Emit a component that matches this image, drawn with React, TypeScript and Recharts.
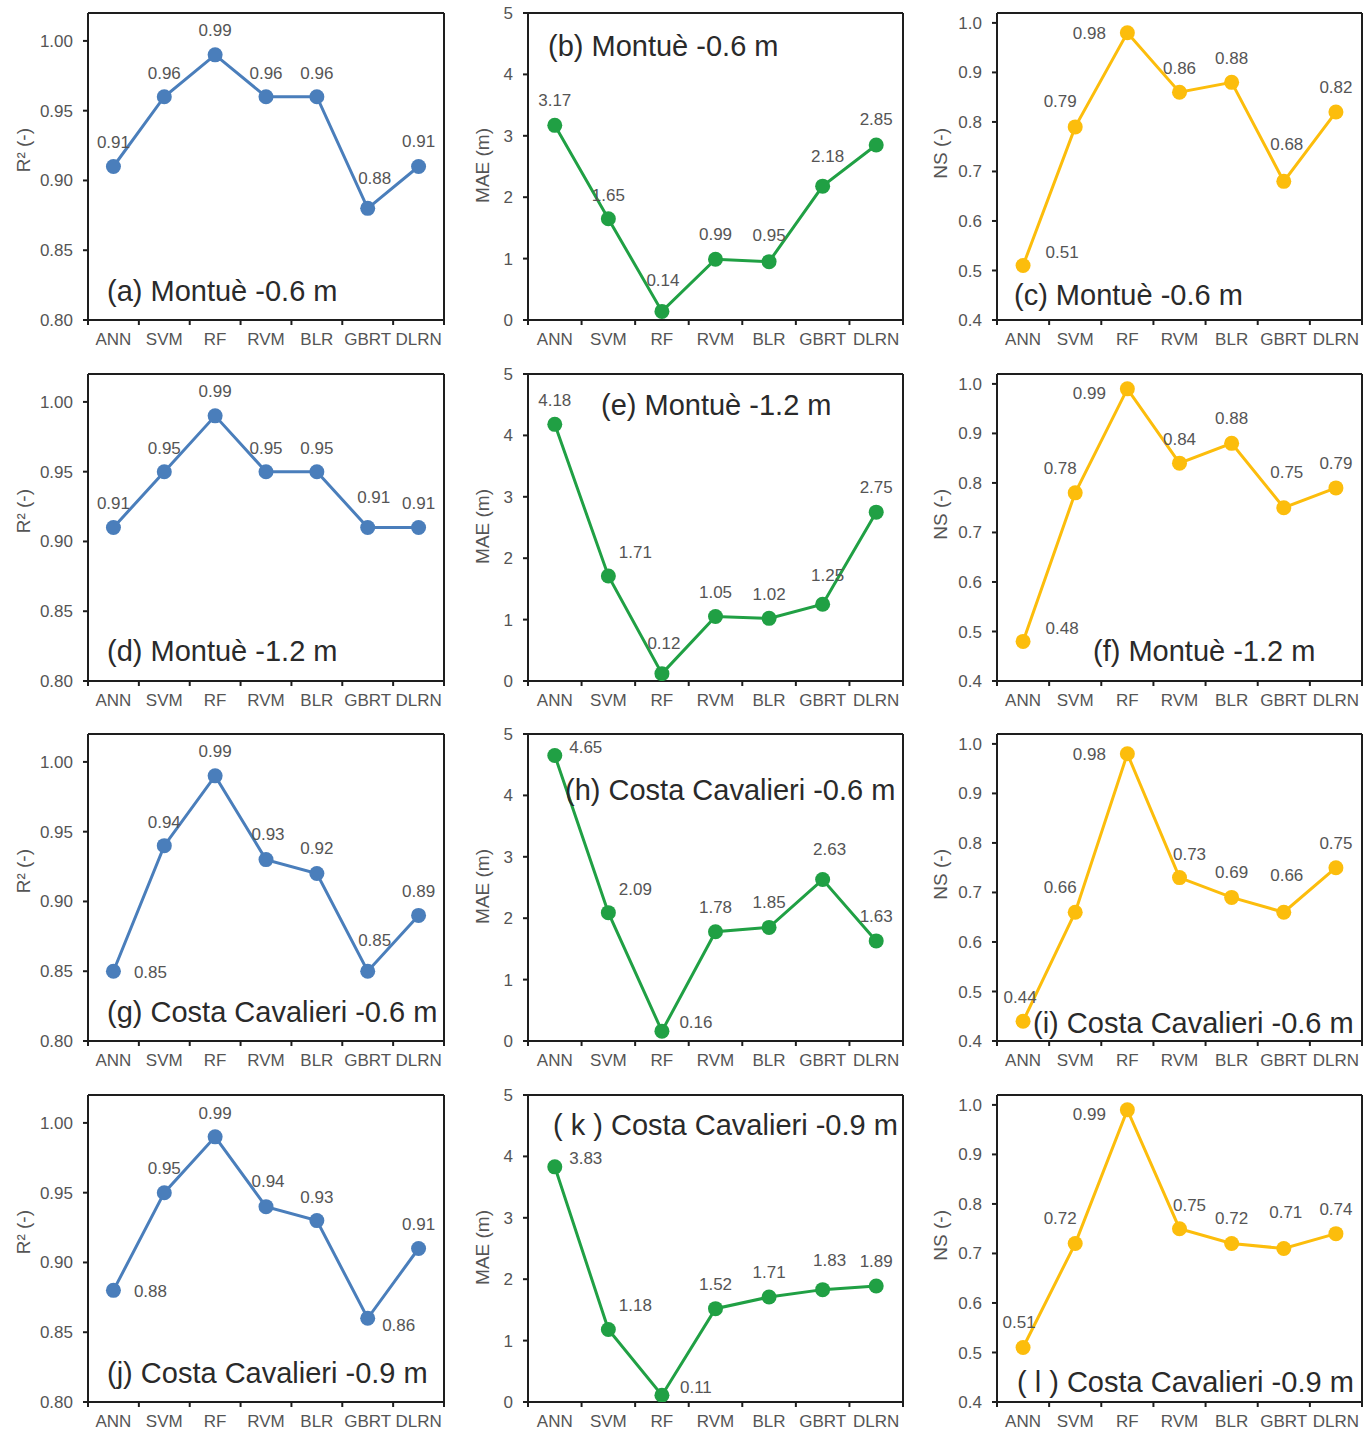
import React from 'react';
import { LineChart, Line, XAxis, YAxis, LabelList, CartesianGrid } from 'recharts';

// model names on the x axis
const models = ['ANN', 'SVM', 'RF', 'RVM', 'BLR', 'GBRT', 'DLRN'];

// tick values of the three metrics
const r2Ticks = [0.8, 0.85, 0.9, 0.95, 1.0];
const maeTicks = [0, 1, 2, 3, 4, 5];
const nsTicks = [0.4, 0.5, 0.6, 0.7, 0.8, 0.9, 1.0];

// R2 values
const r2Montue06 = [0.91, 0.96, 0.99, 0.96, 0.96, 0.88, 0.91];
const r2Montue12 = [0.91, 0.95, 0.99, 0.95, 0.95, 0.91, 0.91];
const r2Costa06 = [0.85, 0.94, 0.99, 0.93, 0.92, 0.85, 0.89];
const r2Costa09 = [0.88, 0.95, 0.99, 0.94, 0.93, 0.86, 0.91];

// MAE values (m)
const maeMontue06 = [3.17, 1.65, 0.14, 0.99, 0.95, 2.18, 2.85];
const maeMontue12 = [4.18, 1.71, 0.12, 1.05, 1.02, 1.25, 2.75];
const maeCosta06 = [4.65, 2.09, 0.16, 1.78, 1.85, 2.63, 1.63];
const maeCosta09 = [3.83, 1.18, 0.11, 1.52, 1.71, 1.83, 1.89];

// NS values
const nsMontue06 = [0.51, 0.79, 0.98, 0.86, 0.88, 0.68, 0.82];
const nsMontue12 = [0.48, 0.78, 0.99, 0.84, 0.88, 0.75, 0.79];
const nsCosta06 = [0.44, 0.66, 0.98, 0.73, 0.69, 0.66, 0.75];
const nsCosta09 = [0.51, 0.72, 0.99, 0.75, 0.72, 0.71, 0.74];

// layout
const COLS = [
  { left: 88, width: 356 },
  { left: 528, width: 375 },
  { left: 997, width: 365 },
];
const ROWS = [13, 374, 734, 1095];
const PLOT_H = 307;
const Y_W = 88;
const M_TOP = 10;
const X_H = 45;
const FONT = '"Liberation Sans", Arial, sans-serif';
const AXIS = '#1e1e1e';
const GREY = '#555';

const metrics: Record<string, any> = {
  r2: { label: 'R² (-)', domain: [0.8, 1.02], ticks: r2Ticks, fmt: (v: number) => v.toFixed(2), color: '#4a7ebb', labelX: 23 },
  mae: { label: 'MAE (m)', domain: [0, 5], ticks: maeTicks, fmt: (v: number) => String(v), color: '#20a044', labelX: 482 },
  ns: { label: 'NS (-)', domain: [0.4, 1.02], ticks: nsTicks, fmt: (v: number) => v.toFixed(1), color: '#fcbd0c', labelX: 940 },
};

// label offsets [dx, dy] from each point, per panel
const panels = [
  { title: '(a) Montuè -0.6 m', kind: 'r2', values: r2Montue06, row: 0, col: 0, tx: 107, ty: 291,
    off: [[0, -24], [0, -24], [0, -25], [0, -24], [0, -24], [7, -30], [0, -25]] },
  { title: '(b) Montuè -0.6 m', kind: 'mae', values: maeMontue06, row: 0, col: 1, tx: 548, ty: 46,
    off: [[0, -25], [0, -24], [1, -31], [0, -25], [0, -27], [5, -30], [0, -26]] },
  { title: '(c) Montuè -0.6 m', kind: 'ns', values: nsMontue06, row: 0, col: 2, tx: 1014, ty: 295,
    off: [[39, -13], [-15, -26], [-38, 0], [0, -24], [0, -24], [3, -37], [0, -25]] },
  { title: '(d) Montuè -1.2 m', kind: 'r2', values: r2Montue12, row: 1, col: 0, tx: 107, ty: 651,
    off: [[0, -24], [0, -24], [0, -25], [0, -24], [0, -24], [6, -30], [0, -24]] },
  { title: '(e) Montuè -1.2 m', kind: 'mae', values: maeMontue12, row: 1, col: 1, tx: 601, ty: 405,
    off: [[0, -24], [27, -24], [2, -31], [0, -24], [0, -24], [5, -29], [0, -25]] },
  { title: '(f) Montuè -1.2 m', kind: 'ns', values: nsMontue12, row: 1, col: 2, tx: 1093, ty: 651,
    off: [[39, -13], [-15, -25], [-38, 4], [0, -24], [0, -25], [3, -36], [0, -25]] },
  { title: '(g) Costa Cavalieri -0.6 m', kind: 'r2', values: r2Costa06, row: 2, col: 0, tx: 107, ty: 1012,
    off: [[37, 1], [0, -24], [0, -25], [2, -26], [0, -25], [7, -31], [0, -24]] },
  { title: '(h) Costa Cavalieri -0.6 m', kind: 'mae', values: maeCosta06, row: 2, col: 1, tx: 565, ty: 790,
    off: [[31, -8], [27, -24], [34, -9], [0, -25], [0, -25], [7, -30], [0, -25]] },
  { title: '(i) Costa Cavalieri -0.6 m', kind: 'ns', values: nsCosta06, row: 2, col: 2, tx: 1033, ty: 1023,
    off: [[-3, -24], [-15, -25], [-38, 0], [10, -24], [0, -25], [3, -37], [0, -25]] },
  { title: '(j) Costa Cavalieri -0.9 m', kind: 'r2', values: r2Costa09, row: 3, col: 0, tx: 107, ty: 1373,
    off: [[37, 1], [0, -25], [0, -24], [2, -26], [0, -24], [31, 7], [0, -24]] },
  { title: '( k ) Costa Cavalieri -0.9 m', kind: 'mae', values: maeCosta09, row: 3, col: 1, tx: 553, ty: 1125,
    off: [[31, -9], [27, -24], [34, -8], [0, -25], [0, -25], [7, -30], [0, -25]] },
  { title: '( l ) Costa Cavalieri -0.9 m', kind: 'ns', values: nsCosta09, row: 3, col: 2, tx: 1017, ty: 1382,
    off: [[-4, -25], [-15, -25], [-38, 4], [10, -24], [0, -25], [2, -36], [0, -25]] },
];

function Panel({ p }: { p: any }) {
  const m = metrics[p.kind];
  const col = COLS[p.col];
  const band = col.width / models.length;
  const data = models.map((name, i) => ({ name, value: p.values[i] }));

  const xTick = (props: any) => {
    const { x, y, payload, index } = props;
    const last = index === models.length - 1;
    return (
      <g>
        <line x1={x - band / 2} x2={x - band / 2} y1={y} y2={y + 5} stroke={AXIS} strokeWidth={2} />
        {last && <line x1={x + band / 2} x2={x + band / 2} y1={y} y2={y + 5} stroke={AXIS} strokeWidth={2} />}
        <text x={x} y={y + 19} dy="0.35em" textAnchor="middle" fill={GREY} fontSize={17} fontFamily={FONT}>
          {payload.value}
        </text>
      </g>
    );
  };

  const dataLabel = (props: any) => {
    const { x, y, value, index } = props;
    const [dx, dy] = p.off[index] || [0, -24];
    return (
      <text x={x + dx} y={y + dy} dy="0.35em" textAnchor="middle" fill={GREY} fontSize={17} fontFamily={FONT}>
        {Number(value).toFixed(2)}
      </text>
    );
  };

  return (
    <div style={{ position: 'absolute', left: col.left - Y_W, top: ROWS[p.row] - M_TOP }}>
      <LineChart
        width={Y_W + col.width + 12}
        height={M_TOP + PLOT_H + X_H}
        data={data}
        margin={{ top: M_TOP, right: 12, bottom: 0, left: 0 }}
      >
        {/* frame around the plot */}
        <CartesianGrid
          stroke={AXIS}
          strokeWidth={2}
          horizontalCoordinatesGenerator={({ offset }: any) => [offset.top, offset.top + offset.height]}
          verticalCoordinatesGenerator={({ offset }: any) => [offset.left, offset.left + offset.width]}
        />
        <XAxis
          dataKey="name"
          scale="band"
          interval={0}
          tickSize={0}
          tickMargin={0}
          tickLine={false}
          height={X_H}
          axisLine={{ stroke: AXIS, strokeWidth: 2 }}
          tick={xTick}
        />
        <YAxis
          width={Y_W}
          domain={m.domain}
          ticks={m.ticks}
          allowDataOverflow
          tickFormatter={m.fmt}
          tickSize={5}
          tickMargin={10}
          tickLine={{ stroke: AXIS, strokeWidth: 2 }}
          axisLine={{ stroke: AXIS, strokeWidth: 2 }}
          tick={{ fill: GREY, fontSize: 17, fontFamily: FONT }}
        />
        <Line
          dataKey="value"
          stroke={m.color}
          strokeWidth={3}
          dot={{ r: 7.5, fill: m.color, stroke: m.color, strokeWidth: 0 }}
          activeDot={false}
          isAnimationActive={false}
        >
          <LabelList dataKey="value" content={dataLabel} />
        </Line>
      </LineChart>
    </div>
  );
}

export default function App() {
  return (
    <div style={{ position: 'absolute', left: 0, top: 0, width: 1370, height: 1432, background: '#fff' }}>
      {panels.map((p) => (
        <Panel key={p.title} p={p} />
      ))}
      <svg width={1370} height={1432} style={{ position: 'absolute', left: 0, top: 0, pointerEvents: 'none' }}>
        {panels.map((p) => {
          const m = metrics[p.kind];
          const ay = ROWS[p.row] + 115;
          return (
            <g key={p.title}>
              <text
                x={m.labelX}
                y={ay}
                transform={`rotate(-90 ${m.labelX} ${ay})`}
                textAnchor="end"
                dominantBaseline="central"
                fill={GREY}
                fontSize={19}
                fontFamily={FONT}
              >
                {m.label}
              </text>
              <text x={p.tx} y={p.ty} dominantBaseline="central" fill="#2a2a2a" fontSize={29} fontFamily={FONT}>
                {p.title}
              </text>
            </g>
          );
        })}
      </svg>
    </div>
  );
}
